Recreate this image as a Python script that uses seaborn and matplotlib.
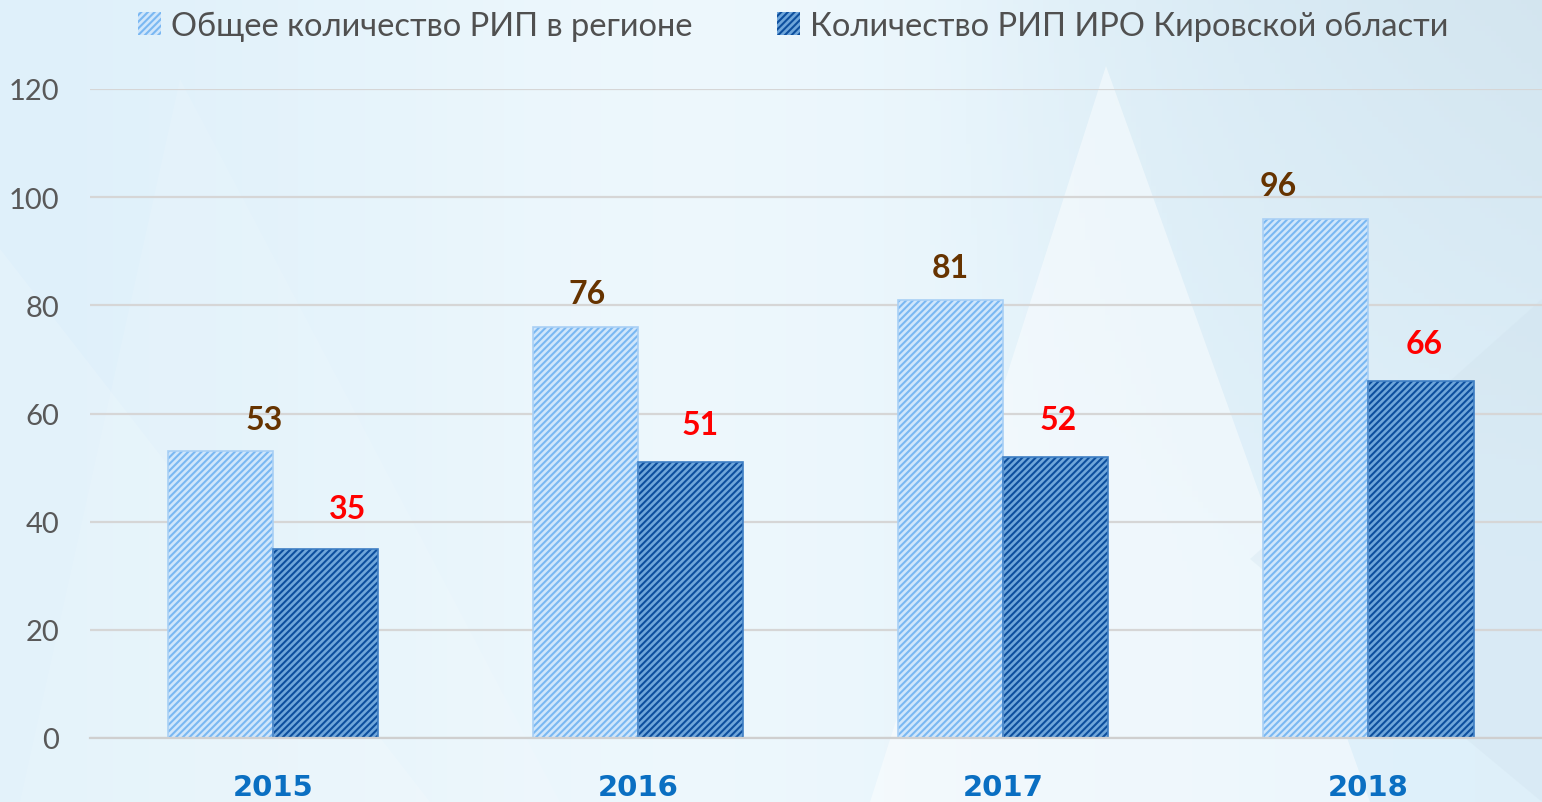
import numpy as np
import pandas as pd
import matplotlib
matplotlib.use("Agg")
import matplotlib.pyplot as plt
from matplotlib.patches import Polygon, Patch
import seaborn as sns

years = ["2015", "2016", "2017", "2018"]
series_names = ["Общее количество РИП в регионе", "Количество РИП ИРО Кировской области"]
total_rip = [53, 76, 81, 96]
iro_rip = [35, 51, 52, 66]
y_ticks = [0, 20, 40, 60, 80, 100, 120]

df = pd.DataFrame({
    "year": years * 2,
    "value": total_rip + iro_rip,
    "series": [series_names[0]] * 4 + [series_names[1]] * 4,
})

sns.set_theme(style="white")
plt.rcParams["font.family"] = ["Lato", "DejaVu Sans"]
plt.rcParams["hatch.linewidth"] = 1.5

fig = plt.figure(figsize=(15.42, 8.03), dpi=100)

# background gradient + soft triangles
bg = fig.add_axes([0, 0, 1, 1], zorder=-10)
bg.set_xlim(0, 1542)
bg.set_ylim(803, 0)
bg.axis("off")
gx = np.linspace(0, 1, 300)
gy = np.linspace(0, 1, 150)
X, Y = np.meshgrid(gx, gy)
c_left = np.array([0.87, 0.94, 0.98])
c_mid = np.array([0.93, 0.97, 0.99])
c_right = np.array([0.83, 0.90, 0.94])
w_right = np.clip((X - 0.6) / 0.4, 0, 1) * np.clip(1 - Y * 1.4, 0, 1)
w_mid = np.exp(-((X - 0.45) ** 2) / 0.08)
img = (c_left[None, None, :] * (1 - w_mid[..., None]) + c_mid[None, None, :] * w_mid[..., None])
img = img * (1 - w_right[..., None]) + c_right[None, None, :] * w_right[..., None]
bg.imshow(img, extent=[0, 1542, 803, 0], aspect="auto", zorder=0)
tris = [
    ([(1106, 67), (870, 803), (1370, 803)], "white", 0.45),
    ([(0, 250), (0, 803), (430, 803)], "white", 0.15),
    ([(180, 80), (560, 803), (20, 803)], "white", 0.10),
    ([(1542, 300), (1542, 803), (1250, 560)], "#cfe1ec", 0.3),
]
for pts, col, a in tris:
    bg.add_patch(Polygon(pts, closed=True, facecolor=col, edgecolor="none", alpha=a, zorder=1))

ax = fig.add_axes([90 / 1542, 1 - 739 / 803, 1 - 90 / 1542, (739 - 90) / 803])
ax.patch.set_alpha(0)

face_cols = ["#cfe6fb", "#6fa6da"]
hatch_cols = ["#7ab8f2", "#0d4f9e"]

sns.barplot(data=df, x="year", y="value", hue="series", hue_order=series_names,
            order=years, width=0.575, ax=ax, legend=False, errorbar=None,
            palette=face_cols, saturation=1, zorder=3)

for i, container in enumerate(ax.containers):
    for bar in container:
        bar.set_facecolor(face_cols[i])
        bar.set_edgecolor(hatch_cols[i])
        bar.set_hatch("/////")
        bar.set_linewidth(0.0)
    for bar in container:
        ax.add_patch(plt.Rectangle(bar.get_xy(), bar.get_width(), bar.get_height(),
                                   fill=False, edgecolor=["#a9d0f5", "#3f7fc4"][i],
                                   linewidth=1.2, zorder=4))

label_cols = ["#663300", "#ff0000"]
x_offsets = [[44, 2, 0, -38], [22, 10, 2, 3]]
y_offsets = [[32, 33, 32, 33], [40, 38, 37, 38]]
for i, container in enumerate(ax.containers):
    vals = [total_rip, iro_rip][i]
    for j, bar in enumerate(container):
        cx = bar.get_x() + bar.get_width() / 2
        ax.annotate(str(vals[j]), (cx, bar.get_height()),
                    xytext=(x_offsets[i][j] * 0.72, y_offsets[i][j] * 0.72),
                    textcoords="offset points", ha="center", va="center",
                    fontsize=23, fontweight="bold", color=label_cols[i], zorder=6)

ax.set_ylim(0, 120)
ax.set_xlim(-0.5, 3.475)
ax.set_yticks(y_ticks)
ax.set_yticklabels([str(t) for t in y_ticks])
ax.yaxis.grid(True, color="#d6d6d6", linewidth=1.6, zorder=0)
ax.set_axisbelow(True)
for s in ["top", "right", "left"]:
    ax.spines[s].set_visible(False)
ax.spines["bottom"].set_color("#cfcfcf")
ax.spines["bottom"].set_linewidth(1.6)
ax.spines["bottom"].set_zorder(5)
ax.tick_params(axis="y", length=0, pad=22, labelsize=21, labelcolor="#595959")
ax.tick_params(axis="x", length=0, pad=25)
ax.set_xticks(range(len(years)))
ax.set_xticklabels(years, fontsize=21, fontweight="bold", color="#0a6fc2",
                   family=["DejaVu Sans"])
ax.set_xlabel("")
ax.set_ylabel("")

handles = [Patch(facecolor=face_cols[k], edgecolor=hatch_cols[k], hatch="/////", linewidth=0)
           for k in range(2)]
fig.legend(handles, series_names, loc="center", bbox_to_anchor=(793 / 1542, 1 - 27 / 803),
           ncol=2, frameon=False, fontsize=23.5, labelcolor="#505050",
           handlelength=0.7, handleheight=0.7, handletextpad=0.3, columnspacing=2.6)

fig.savefig("out.png", dpi=100)
